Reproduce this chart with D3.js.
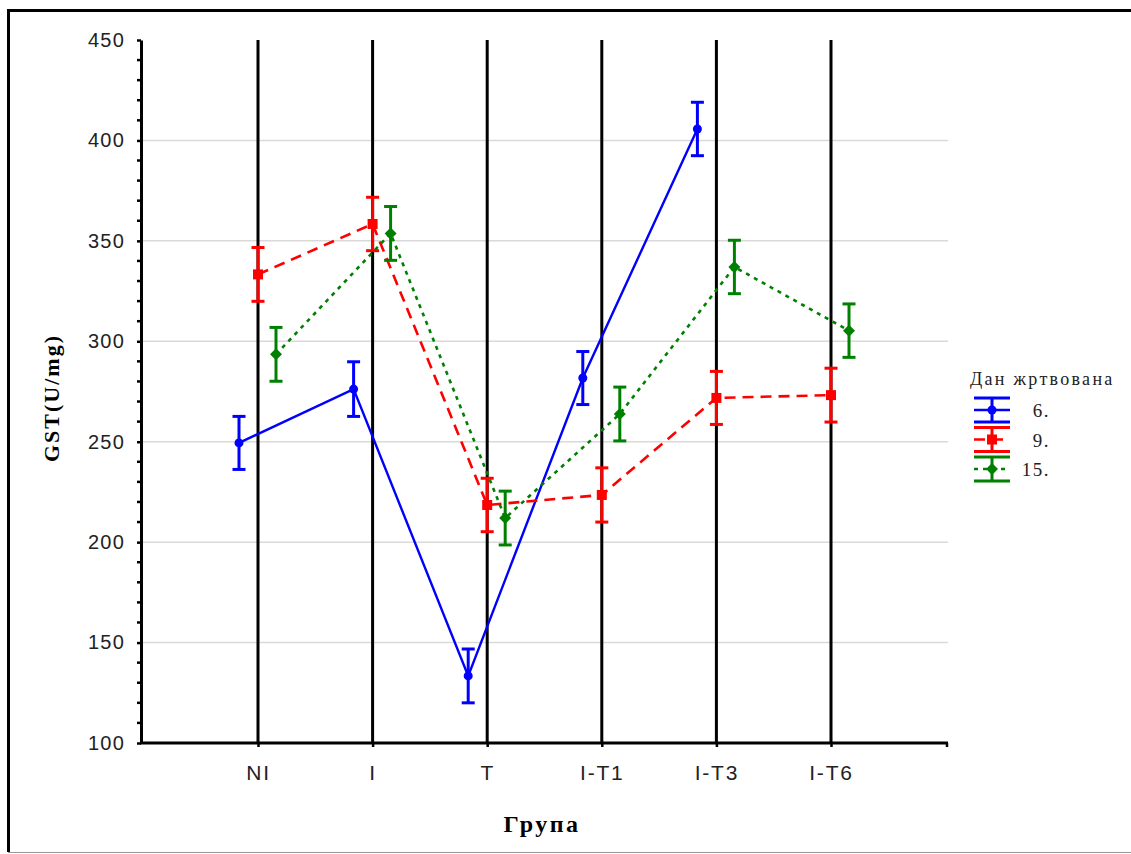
<!DOCTYPE html>
<html>
<head>
<meta charset="utf-8">
<script src="https://cdn.jsdelivr.net/npm/d3@7"></script>
<style>
  html, body { margin: 0; padding: 0; background: #fff; }
  svg { display: block; }
</style>
</head>
<body>
<svg id="chart" width="1131" height="854"></svg>
<script>
// Groups on the x axis
const groups = ["NI", "I", "T", "I-T1", "I-T3", "I-T6"];
const yTicks = [100, 150, 200, 250, 300, 350, 400, 450];

// Series: day of sacrifice, mean GST and error half-width per group (null = no data)
const seriesNames = ["6.", "9.", "15."];
const day6Mean  = [249.4, 276.2, 133.4, 281.7, 405.7, null];
const day6Err   = [13.2, 13.6, 13.4, 13.2, 13.3, null];
const day9Mean  = [333.3, 358.4, 218.5, 223.5, 271.8, 273.2];
const day9Err   = [13.4, 13.3, 13.3, 13.5, 13.2, 13.4];
const day15Mean = [293.5, 353.7, 212.0, 263.8, 337.0, 305.3];
const day15Err  = [13.4, 13.4, 13.4, 13.4, 13.3, 13.3];

const series = [
  { name: seriesNames[0], mean: day6Mean,  err: day6Err,  color: "#0000ff", dash: null,  width: 2.4, shape: "circle",  offset: -19 },
  { name: seriesNames[1], mean: day9Mean,  err: day9Err,  color: "#ff0000", dash: "11,7", width: 2.6, shape: "square",  offset: 0 },
  { name: seriesNames[2], mean: day15Mean, err: day15Err, color: "#008000", dash: "4,5", width: 2.6, shape: "diamond", offset: 18 }
];

const sansFont = "Arial, 'Liberation Sans', sans-serif";
const narrowFont = "'Liberation Sans Narrow', 'Arial Narrow', Arial, sans-serif";
const serifFont = "'Liberation Serif', 'Times New Roman', serif";

const svg = d3.select("#chart");

// Outer frame
svg.append("line").attr("x1", 8.5).attr("x2", 1131).attr("y1", 10.5).attr("y2", 10.5)
  .attr("stroke", "#000").attr("stroke-width", 3);
svg.append("line").attr("x1", 8.5).attr("x2", 8.5).attr("y1", 9).attr("y2", 852)
  .attr("stroke", "#000").attr("stroke-width", 3);
svg.append("line").attr("x1", 8).attr("x2", 1131).attr("y1", 852.5).attr("y2", 852.5)
  .attr("stroke", "#999").attr("stroke-width", 1);

const plotLeft = 141, plotRight = 948, plotTop = 40, plotBottom = 743;

const x = d3.scalePoint().domain(groups).range([258, 831]);
const y = d3.scaleLinear().domain([100, 450]).range([plotBottom, plotTop]);

// Horizontal grid lines
svg.append("g").selectAll("line")
  .data(yTicks.filter(v => v > 100 && v < 450))
  .join("line")
  .attr("x1", plotLeft).attr("x2", plotRight)
  .attr("y1", d => y(d)).attr("y2", d => y(d))
  .attr("stroke", "#d9d9d9").attr("stroke-width", 1.5);

// Vertical group lines
svg.append("g").selectAll("line")
  .data(groups)
  .join("line")
  .attr("x1", d => x(d)).attr("x2", d => x(d))
  .attr("y1", plotTop).attr("y2", plotBottom)
  .attr("stroke", "#000").attr("stroke-width", 3);

// Y axis with minor ticks
const yAxis = d3.axisLeft(y).tickValues(yTicks).tickSize(4).tickSizeOuter(0);
const gy = svg.append("g").attr("transform", `translate(${plotLeft},0)`).call(yAxis);
gy.select(".domain").attr("stroke-width", 3);
gy.selectAll(".tick line").attr("stroke-width", 2.5);
gy.selectAll(".tick text")
  .attr("x", -16)
  .attr("font-family", sansFont)
  .attr("font-size", 20).attr("letter-spacing", 1.2).attr("fill", "#222");
const minor = d3.range(100, 451, 10).filter(v => v % 50 !== 0);
svg.append("g").selectAll("line").data(minor).join("line")
  .attr("x1", plotLeft - 4).attr("x2", plotLeft)
  .attr("y1", d => y(d)).attr("y2", d => y(d))
  .attr("stroke", "#000").attr("stroke-width", 2.5);

// X axis
svg.append("line").attr("x1", plotLeft - 1).attr("x2", plotRight)
  .attr("y1", plotBottom).attr("y2", plotBottom)
  .attr("stroke", "#000").attr("stroke-width", 3);
svg.append("line").attr("x1", plotRight - 1).attr("x2", plotRight - 1)
  .attr("y1", plotBottom).attr("y2", plotBottom + 4)
  .attr("stroke", "#000").attr("stroke-width", 2.5);
const xAxis = d3.axisBottom(x).tickSize(4).tickSizeOuter(0);
const gx = svg.append("g").attr("transform", `translate(0,${plotBottom})`).call(xAxis);
gx.select(".domain").remove();
gx.selectAll(".tick line").attr("stroke-width", 2.5);
gx.selectAll(".tick text")
  .attr("y", 22)
  .attr("font-family", narrowFont)
  .attr("font-size", 21).attr("letter-spacing", 1.8).attr("fill", "#222");

// Axis titles
svg.append("text")
  .attr("transform", "translate(59,398) rotate(-90)")
  .attr("text-anchor", "middle")
  .attr("font-family", serifFont)
  .attr("font-weight", "bold").attr("font-size", 22).attr("letter-spacing", 2)
  .text("GST(U/mg)");
svg.append("text")
  .attr("x", 542).attr("y", 832)
  .attr("text-anchor", "middle")
  .attr("font-family", serifFont)
  .attr("font-weight", "bold").attr("font-size", 24).attr("letter-spacing", 2.5)
  .text("Група");

// Marker drawing helper
function marker(g, shape, color, cx, cy) {
  if (shape === "circle") {
    g.append("circle").attr("cx", cx).attr("cy", cy).attr("r", 4.5).attr("fill", color);
  } else if (shape === "square") {
    g.append("rect").attr("x", cx - 5).attr("y", cy - 5).attr("width", 10).attr("height", 10).attr("fill", color);
  } else {
    g.append("path").attr("d", `M${cx},${cy - 6}L${cx + 6},${cy}L${cx},${cy + 6}L${cx - 6},${cy}Z`).attr("fill", color);
  }
}

const capHalf = 6.5;

series.forEach(s => {
  const pts = groups.map((gname, i) => ({ g: gname, v: s.mean[i], e: s.err[i] })).filter(d => d.v != null);
  const px = d => x(d.g) + s.offset;
  const g = svg.append("g");

  const line = d3.line().x(px).y(d => y(d.v));
  g.append("path").datum(pts).attr("d", line)
    .attr("fill", "none").attr("stroke", s.color)
    .attr("stroke-width", s.width)
    .attr("stroke-dasharray", s.dash);

  // error bars
  pts.forEach(d => {
    const cx = px(d), yt = y(d.v + d.e), yb = y(d.v - d.e);
    g.append("line").attr("x1", cx).attr("x2", cx).attr("y1", yt).attr("y2", yb)
      .attr("stroke", s.color).attr("stroke-width", 3);
    [yt, yb].forEach(yy => g.append("line")
      .attr("x1", cx - capHalf).attr("x2", cx + capHalf).attr("y1", yy).attr("y2", yy)
      .attr("stroke", s.color).attr("stroke-width", 3));
    marker(g, s.shape, s.color, cx, y(d.v));
  });
});

// Legend
const lg = svg.append("g");
lg.append("text").attr("x", 970).attr("y", 385)
  .attr("font-family", serifFont)
  .attr("font-size", 18).attr("letter-spacing", 2.3).attr("fill", "#222")
  .text("Дан жртвована");
series.forEach((s, i) => {
  const cy = 410 + i * 29.5;
  const x0 = 974, x1 = 1010, cx = (x0 + x1) / 2;
  lg.append("line").attr("x1", x0).attr("x2", x1).attr("y1", cy - 12).attr("y2", cy - 12)
    .attr("stroke", s.color).attr("stroke-width", 3);
  lg.append("line").attr("x1", x0).attr("x2", x1).attr("y1", cy + 12).attr("y2", cy + 12)
    .attr("stroke", s.color).attr("stroke-width", 3);
  lg.append("line").attr("x1", cx).attr("x2", cx).attr("y1", cy - 12).attr("y2", cy + 12)
    .attr("stroke", s.color).attr("stroke-width", 3);
  lg.append("line").attr("x1", x0).attr("x2", x1).attr("y1", cy).attr("y2", cy)
    .attr("stroke", s.color).attr("stroke-width", 2.6)
    .attr("stroke-dasharray", s.dash);
  marker(lg, s.shape, s.color, cx, cy);
  lg.append("text").attr("x", 1050).attr("y", cy + 7)
    .attr("text-anchor", "end")
    .attr("font-family", serifFont)
    .attr("font-size", 19).attr("letter-spacing", 1.5).attr("fill", "#222")
    .text(s.name);
});
</script>
</body>
</html>
